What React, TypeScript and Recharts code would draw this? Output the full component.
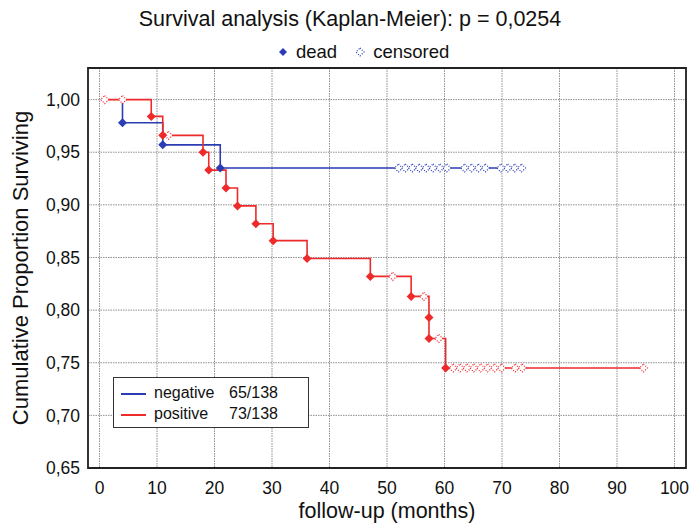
import React from 'react';
import { ComposedChart, Line, Scatter, XAxis, YAxis, CartesianGrid, ReferenceArea } from 'recharts';

const FONT = '"Liberation Sans", Arial, sans-serif';
const BLUE = '#2a3db4';
const RED = '#ee2a2a';

const xTicks = [0, 10, 20, 30, 40, 50, 60, 70, 80, 90, 100];
const yTicks = [0.65, 0.7, 0.75, 0.8, 0.85, 0.9, 0.95, 1.0];

// negative group
const negDeadTimes = [4, 11, 21];
const negDeadSurv = [0.978, 0.957, 0.935];
const negCensoredTimes = [52, 53.2, 54.4, 55.6, 56.8, 58, 59.2, 60.4, 63.5, 64.7, 65.9, 67.1, 69.8, 71, 72.2, 73.4];

// positive group
const posDeadTimes = [9, 11, 18, 19, 22, 24, 27.2, 30.2, 36.1, 47.1, 54.2, 57.3, 57.3, 60.2];
const posDeadSurv = [0.984, 0.966, 0.95, 0.933, 0.916, 0.899, 0.882, 0.866, 0.849, 0.832, 0.813, 0.793, 0.773, 0.745];
const posCensoredTimes = [0.9, 4, 12, 51, 56.4, 59, 61.5, 62.7, 63.9, 65.1, 66.3, 67.5, 68.7, 69.9, 72.3, 73.5, 94.6];

type Pt = { t: number; s: number };

const survAt = (times: number[], surv: number[], t: number) => {
    let s = 1;
    times.forEach((dt, i) => {
        if (dt <= t) s = surv[i];
    });
    return s;
};

const buildCurve = (times: number[], surv: number[], cens: number[]): Pt[] => {
    const start = Math.min(times[0], cens[0]);
    const end = Math.max(times[times.length - 1], cens[cens.length - 1]);
    const pts: Pt[] = [{ t: start, s: 1 }];
    times.forEach((t, i) => pts.push({ t, s: surv[i] }));
    pts.push({ t: end, s: surv[surv.length - 1] });
    return pts;
};

const deadPoints = (times: number[], surv: number[]): Pt[] => times.map((t, i) => ({ t, s: surv[i] }));
const censPoints = (times: number[], surv: number[], cens: number[]): Pt[] =>
    cens.map((t) => ({ t, s: survAt(times, surv, t) }));

const negCurve = buildCurve(negDeadTimes, negDeadSurv, negCensoredTimes);
const posCurve = buildCurve(posDeadTimes, posDeadSurv, posCensoredTimes);

const Diamond = (color: string) => (props: any) => {
    const { cx, cy } = props;
    const r = 4.5;
    return <path d={`M${cx},${cy - r}L${cx + r},${cy}L${cx},${cy + r}L${cx - r},${cy}Z`} fill={color} stroke="none" />;
};

const Censored = (color: string) => (props: any) => {
    const { cx, cy } = props;
    const r = 4;
    return (
        <path
            d={`M${cx},${cy - r}L${cx + r},${cy}L${cx},${cy + r}L${cx - r},${cy}Z`}
            fill="#fff"
            stroke={color}
            strokeWidth={1.2}
            strokeDasharray="1 1.6"
        />
    );
};

const fmt = (v: number) => v.toFixed(2).replace('.', ',');

export default function App() {
    return (
        <div style={{ position: 'absolute', left: 0, top: 0, width: 690, height: 524, background: '#fff', fontFamily: FONT }}>
            <ComposedChart width={690} height={524} margin={{ top: 68, right: 4, left: 0, bottom: 0 }}>
                <CartesianGrid stroke="#8f8f8f" strokeDasharray="1.5 1" />
                <XAxis
                    type="number"
                    dataKey="t"
                    domain={[-2, 102]}
                    ticks={xTicks}
                    allowDataOverflow
                    axisLine={false}
                    tickLine={false}
                    tickMargin={8}
                    height={56}
                    tick={{ fill: '#111', fontSize: 17.5, fontFamily: FONT }}
                    label={{ value: 'follow-up (months)', position: 'insideBottom', offset: 6, fill: '#111', fontSize: 21.5, fontFamily: FONT }}
                />
                <YAxis
                    type="number"
                    dataKey="s"
                    domain={[0.65, 1.03]}
                    ticks={yTicks}
                    allowDataOverflow
                    axisLine={false}
                    tickLine={false}
                    width={88}
                    tickFormatter={fmt}
                    tick={{ fill: '#111', fontSize: 17.5, fontFamily: FONT }}
                    label={{
                        value: 'Cumulative Proportion Surviving',
                        angle: -90,
                        position: 'insideLeft',
                        offset: 20,
                        fill: '#111',
                        fontSize: 22,
                        fontFamily: FONT,
                        style: { textAnchor: 'middle' },
                    }}
                />
                <ReferenceArea x1={-2} x2={102} y1={0.65} y2={1.03} fill="none" stroke="#222" strokeWidth={1.8} ifOverflow="visible" />
                <Line data={negCurve} dataKey="s" type="stepAfter" stroke={BLUE} strokeWidth={1.6} dot={false} isAnimationActive={false} />
                <Line data={posCurve} dataKey="s" type="stepAfter" stroke={RED} strokeWidth={1.6} dot={false} isAnimationActive={false} />
                <Scatter data={censPoints(negDeadTimes, negDeadSurv, negCensoredTimes)} dataKey="s" shape={Censored(BLUE)} isAnimationActive={false} />
                <Scatter data={censPoints(posDeadTimes, posDeadSurv, posCensoredTimes)} dataKey="s" shape={Censored(RED)} isAnimationActive={false} />
                <Scatter data={deadPoints(negDeadTimes, negDeadSurv)} dataKey="s" shape={Diamond(BLUE)} isAnimationActive={false} />
                <Scatter data={deadPoints(posDeadTimes, posDeadSurv)} dataKey="s" shape={Diamond(RED)} isAnimationActive={false} />
            </ComposedChart>

            <div style={{ position: 'absolute', left: 0, top: 7, width: 700, textAlign: 'center', fontSize: 21.5, lineHeight: '24px', color: '#111' }}>
                Survival analysis (Kaplan-Meier): p = 0,0254
            </div>

            <div style={{ position: 'absolute', left: 276, top: 41, height: 22, display: 'flex', alignItems: 'center', fontSize: 18.5, color: '#111' }}>
                <svg width={14} height={14}>
                    <path d="M7,3L11,7L7,11L3,7Z" fill={BLUE} />
                </svg>
                <span style={{ marginLeft: 6 }}>dead</span>
                <svg width={14} height={14} style={{ marginLeft: 16 }}>
                    <path d="M7,3L11,7L7,11L3,7Z" fill="#fff" stroke={BLUE} strokeWidth={1.2} strokeDasharray="1 1.6" />
                </svg>
                <span style={{ marginLeft: 6 }}>censored</span>
            </div>

            <div
                style={{
                    position: 'absolute',
                    left: 113,
                    top: 377,
                    width: 194,
                    height: 49,
                    border: '1px solid #333',
                    background: '#fff',
                    fontSize: 16,
                    color: '#111',
                }}
            >
                {[
                    { name: 'negative', n: '65/138', color: BLUE },
                    { name: 'positive', n: '73/138', color: RED },
                ].map((row, i) => (
                    <div key={row.name} style={{ position: 'absolute', left: 0, top: 5 + i * 21, height: 20, width: '100%' }}>
                        <div style={{ position: 'absolute', left: 7, top: 10, width: 25, height: 1.5, background: row.color }} />
                        <span style={{ position: 'absolute', left: 40, top: 1 }}>{row.name}</span>
                        <span style={{ position: 'absolute', left: 115, top: 1 }}>{row.n}</span>
                    </div>
                ))}
            </div>
        </div>
    );
}
